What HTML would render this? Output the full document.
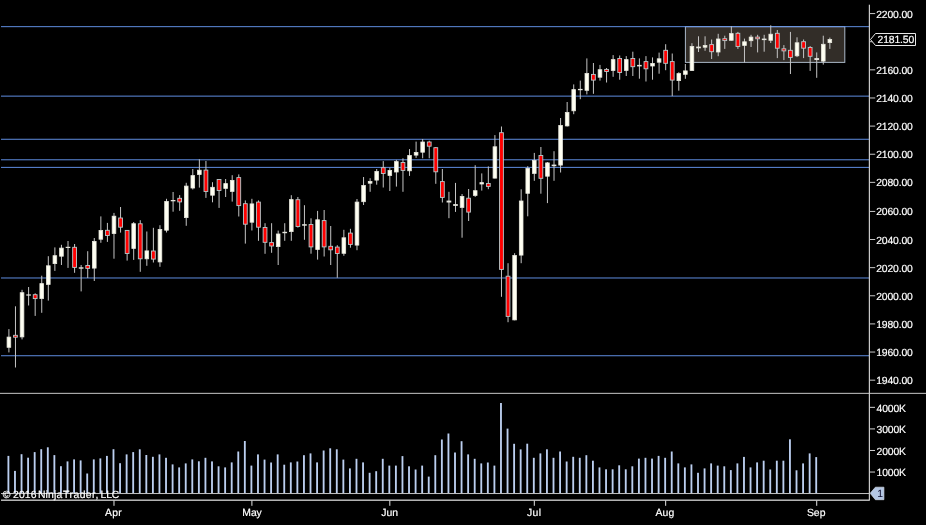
<!DOCTYPE html>
<html lang="en"><head><meta charset="utf-8"><title>Chart</title>
<style>html,body{margin:0;padding:0;background:#000;overflow:hidden}svg{display:block}</style>
</head><body>
<svg width="926" height="525" viewBox="0 0 926 525">
<rect width="926" height="525" fill="#000"/>
<rect x="685.4" y="26.68" width="159.4" height="35.7" fill="#322d28" stroke="#aab8c8" stroke-width="1"/>
<rect x="1" y="26.21" width="868" height="0.94" fill="#6495ed"/>
<rect x="1" y="95.65" width="868" height="0.94" fill="#6495ed"/>
<rect x="1" y="138.78" width="868" height="0.94" fill="#6495ed"/>
<rect x="1" y="159.33" width="868" height="0.94" fill="#6495ed"/>
<rect x="1" y="166.89" width="868" height="0.94" fill="#6495ed"/>
<rect x="1" y="277.51" width="868" height="0.94" fill="#6495ed"/>
<rect x="1" y="355.28" width="868" height="0.94" fill="#6495ed"/>
<g fill="#bccff0">
<rect x="7.48" y="455.9" width="1.84" height="37.4"/>
<rect x="14.05" y="470.9" width="1.84" height="22.4"/>
<rect x="20.62" y="454.2" width="1.84" height="39.1"/>
<rect x="27.18" y="457.7" width="1.84" height="35.6"/>
<rect x="33.75" y="452.1" width="1.84" height="41.2"/>
<rect x="40.32" y="449.2" width="1.84" height="44.1"/>
<rect x="46.89" y="447.3" width="1.84" height="46"/>
<rect x="53.45" y="455.1" width="1.84" height="38.2"/>
<rect x="60.02" y="466.2" width="1.84" height="27.1"/>
<rect x="66.59" y="461.4" width="1.84" height="31.9"/>
<rect x="73.16" y="459.4" width="1.84" height="33.9"/>
<rect x="79.72" y="460.4" width="1.84" height="32.9"/>
<rect x="86.29" y="473.5" width="1.84" height="19.8"/>
<rect x="92.86" y="459.4" width="1.84" height="33.9"/>
<rect x="99.43" y="458.4" width="1.84" height="34.9"/>
<rect x="105.99" y="455.9" width="1.84" height="37.4"/>
<rect x="112.56" y="449.2" width="1.84" height="44.1"/>
<rect x="119.13" y="463.2" width="1.84" height="30.1"/>
<rect x="125.7" y="454.4" width="1.84" height="38.9"/>
<rect x="132.26" y="452.1" width="1.84" height="41.2"/>
<rect x="138.83" y="449.3" width="1.84" height="44"/>
<rect x="145.4" y="455" width="1.84" height="38.3"/>
<rect x="151.97" y="456.8" width="1.84" height="36.5"/>
<rect x="158.53" y="454.4" width="1.84" height="38.9"/>
<rect x="165.1" y="457.8" width="1.84" height="35.5"/>
<rect x="171.67" y="464.4" width="1.84" height="28.9"/>
<rect x="178.24" y="467.4" width="1.84" height="25.9"/>
<rect x="184.81" y="463.4" width="1.84" height="29.9"/>
<rect x="191.37" y="459.4" width="1.84" height="33.9"/>
<rect x="197.94" y="461.3" width="1.84" height="32"/>
<rect x="204.51" y="457.8" width="1.84" height="35.5"/>
<rect x="211.08" y="461.4" width="1.84" height="31.9"/>
<rect x="217.64" y="466.3" width="1.84" height="27"/>
<rect x="224.21" y="467.4" width="1.84" height="25.9"/>
<rect x="230.78" y="462.4" width="1.84" height="30.9"/>
<rect x="237.35" y="451.5" width="1.84" height="41.8"/>
<rect x="243.91" y="441" width="1.84" height="52.3"/>
<rect x="250.48" y="465.6" width="1.84" height="27.7"/>
<rect x="257.05" y="454.4" width="1.84" height="38.9"/>
<rect x="263.62" y="459.6" width="1.84" height="33.7"/>
<rect x="270.18" y="462.5" width="1.84" height="30.8"/>
<rect x="276.75" y="454.4" width="1.84" height="38.9"/>
<rect x="283.32" y="464.7" width="1.84" height="28.6"/>
<rect x="289.89" y="462.4" width="1.84" height="30.9"/>
<rect x="296.45" y="461.5" width="1.84" height="31.8"/>
<rect x="303.02" y="455.2" width="1.84" height="38.1"/>
<rect x="309.59" y="453.4" width="1.84" height="39.9"/>
<rect x="316.16" y="462.4" width="1.84" height="30.9"/>
<rect x="322.72" y="450.5" width="1.84" height="42.8"/>
<rect x="329.29" y="448.3" width="1.84" height="45"/>
<rect x="335.86" y="449.3" width="1.84" height="44"/>
<rect x="342.43" y="459.6" width="1.84" height="33.7"/>
<rect x="349" y="468.4" width="1.84" height="24.9"/>
<rect x="355.56" y="458.8" width="1.84" height="34.5"/>
<rect x="362.13" y="462.4" width="1.84" height="30.9"/>
<rect x="368.7" y="472.8" width="1.84" height="20.5"/>
<rect x="375.27" y="471.2" width="1.84" height="22.1"/>
<rect x="381.83" y="458.8" width="1.84" height="34.5"/>
<rect x="388.4" y="465.6" width="1.84" height="27.7"/>
<rect x="394.97" y="465.6" width="1.84" height="27.7"/>
<rect x="401.54" y="456.1" width="1.84" height="37.2"/>
<rect x="408.1" y="466.3" width="1.84" height="27"/>
<rect x="414.67" y="469.5" width="1.84" height="23.8"/>
<rect x="421.24" y="465.6" width="1.84" height="27.7"/>
<rect x="427.81" y="476.6" width="1.84" height="16.7"/>
<rect x="434.37" y="455.2" width="1.84" height="38.1"/>
<rect x="440.94" y="439.5" width="1.84" height="53.8"/>
<rect x="447.51" y="433.5" width="1.84" height="59.8"/>
<rect x="454.08" y="452.5" width="1.84" height="40.8"/>
<rect x="460.64" y="441.2" width="1.84" height="52.1"/>
<rect x="467.21" y="454.4" width="1.84" height="38.9"/>
<rect x="473.78" y="458.8" width="1.84" height="34.5"/>
<rect x="480.35" y="463.4" width="1.84" height="29.9"/>
<rect x="486.91" y="462.5" width="1.84" height="30.8"/>
<rect x="493.48" y="465.6" width="1.84" height="27.7"/>
<rect x="500.05" y="403" width="1.84" height="90.3"/>
<rect x="506.62" y="428.6" width="1.84" height="64.7"/>
<rect x="513.19" y="443.8" width="1.84" height="49.5"/>
<rect x="519.75" y="449.4" width="1.84" height="43.9"/>
<rect x="526.32" y="443.7" width="1.84" height="49.6"/>
<rect x="532.89" y="457.8" width="1.84" height="35.5"/>
<rect x="539.46" y="453.4" width="1.84" height="39.9"/>
<rect x="546.02" y="449.3" width="1.84" height="44"/>
<rect x="552.59" y="457.8" width="1.84" height="35.5"/>
<rect x="559.16" y="451.5" width="1.84" height="41.8"/>
<rect x="565.73" y="461.5" width="1.84" height="31.8"/>
<rect x="572.29" y="456.8" width="1.84" height="36.5"/>
<rect x="578.86" y="457.8" width="1.84" height="35.5"/>
<rect x="585.43" y="455.2" width="1.84" height="38.1"/>
<rect x="592" y="460.7" width="1.84" height="32.6"/>
<rect x="598.56" y="467.4" width="1.84" height="25.9"/>
<rect x="605.13" y="469.3" width="1.84" height="24"/>
<rect x="611.7" y="469.3" width="1.84" height="24"/>
<rect x="618.27" y="465.3" width="1.84" height="28"/>
<rect x="624.83" y="469.3" width="1.84" height="24"/>
<rect x="631.4" y="466.3" width="1.84" height="27"/>
<rect x="637.97" y="458.6" width="1.84" height="34.7"/>
<rect x="644.54" y="457.8" width="1.84" height="35.5"/>
<rect x="651.1" y="458.6" width="1.84" height="34.7"/>
<rect x="657.67" y="455.9" width="1.84" height="37.4"/>
<rect x="664.24" y="457.8" width="1.84" height="35.5"/>
<rect x="670.81" y="451.5" width="1.84" height="41.8"/>
<rect x="677.38" y="463.4" width="1.84" height="29.9"/>
<rect x="683.94" y="467.4" width="1.84" height="25.9"/>
<rect x="690.51" y="464.4" width="1.84" height="28.9"/>
<rect x="697.08" y="472.8" width="1.84" height="20.5"/>
<rect x="703.65" y="468.4" width="1.84" height="24.9"/>
<rect x="710.21" y="463.4" width="1.84" height="29.9"/>
<rect x="716.78" y="465.6" width="1.84" height="27.7"/>
<rect x="723.35" y="466.3" width="1.84" height="27"/>
<rect x="729.92" y="470.1" width="1.84" height="23.2"/>
<rect x="736.48" y="463.4" width="1.84" height="29.9"/>
<rect x="743.05" y="456.9" width="1.84" height="36.4"/>
<rect x="749.62" y="467.4" width="1.84" height="25.9"/>
<rect x="756.19" y="462.4" width="1.84" height="30.9"/>
<rect x="762.75" y="460.7" width="1.84" height="32.6"/>
<rect x="769.32" y="469.5" width="1.84" height="23.8"/>
<rect x="775.89" y="460.7" width="1.84" height="32.6"/>
<rect x="782.46" y="460.7" width="1.84" height="32.6"/>
<rect x="789.02" y="439.3" width="1.84" height="54"/>
<rect x="795.59" y="470.3" width="1.84" height="23"/>
<rect x="802.16" y="463.4" width="1.84" height="29.9"/>
<rect x="808.73" y="453.4" width="1.84" height="39.9"/>
<rect x="815.29" y="457.1" width="1.84" height="36.2"/>
</g>
<g>
<rect x="8.4" y="329.1" width="1" height="23.3" fill="#c4c4c4"/>
<rect x="7.08" y="337.1" width="3.65" height="10.2" fill="#fffff2" stroke="#e6e6dc" stroke-width="0.8"/>
<rect x="14.97" y="306.3" width="1" height="61.2" fill="#c4c4c4"/>
<rect x="13.57" y="335.3" width="3.8" height="1.9" fill="#ff0000" stroke="#b8cacc" stroke-width="0.9"/>
<rect x="21.54" y="289.8" width="1" height="49.6" fill="#c4c4c4"/>
<rect x="20.21" y="292.7" width="3.65" height="44.2" fill="#fffff2" stroke="#e6e6dc" stroke-width="0.8"/>
<rect x="28.1" y="287" width="1" height="18.5" fill="#c4c4c4"/>
<rect x="26.25" y="294.4" width="4.7" height="1.2" fill="#e4e4dc"/>
<rect x="34.67" y="293.3" width="1" height="22.6" fill="#c4c4c4"/>
<rect x="33.27" y="294.7" width="3.8" height="3.9" fill="#ff0000" stroke="#b8cacc" stroke-width="0.9"/>
<rect x="41.24" y="275.7" width="1" height="37.1" fill="#c4c4c4"/>
<rect x="39.91" y="283.6" width="3.65" height="15" fill="#fffff2" stroke="#e6e6dc" stroke-width="0.8"/>
<rect x="47.81" y="256.2" width="1" height="44.4" fill="#c4c4c4"/>
<rect x="46.48" y="265.8" width="3.65" height="18.6" fill="#fffff2" stroke="#e6e6dc" stroke-width="0.8"/>
<rect x="54.37" y="247.4" width="1" height="23.5" fill="#c4c4c4"/>
<rect x="53.05" y="255.7" width="3.65" height="7.9" fill="#fffff2" stroke="#e6e6dc" stroke-width="0.8"/>
<rect x="60.94" y="244.8" width="1" height="20.2" fill="#c4c4c4"/>
<rect x="59.62" y="248.1" width="3.65" height="8.1" fill="#fffff2" stroke="#e6e6dc" stroke-width="0.8"/>
<rect x="67.51" y="241" width="1" height="26.9" fill="#c4c4c4"/>
<rect x="65.66" y="246.8" width="4.7" height="1.2" fill="#e4e4dc"/>
<rect x="74.08" y="244" width="1" height="28.8" fill="#c4c4c4"/>
<rect x="72.68" y="247.3" width="3.8" height="20.1" fill="#ff0000" stroke="#b8cacc" stroke-width="0.9"/>
<rect x="80.64" y="265" width="1" height="26.4" fill="#c4c4c4"/>
<rect x="78.79" y="267.3" width="4.7" height="1.4" fill="#e4e4dc"/>
<rect x="87.21" y="251.2" width="1" height="26.8" fill="#c4c4c4"/>
<rect x="85.81" y="265.5" width="3.8" height="2.9" fill="#ff0000" stroke="#b8cacc" stroke-width="0.9"/>
<rect x="93.78" y="238" width="1" height="43" fill="#c4c4c4"/>
<rect x="92.45" y="241.4" width="3.65" height="26.7" fill="#fffff2" stroke="#e6e6dc" stroke-width="0.8"/>
<rect x="100.35" y="216.4" width="1" height="26.4" fill="#c4c4c4"/>
<rect x="99.02" y="230.4" width="3.65" height="8.8" fill="#fffff2" stroke="#e6e6dc" stroke-width="0.8"/>
<rect x="106.91" y="222.9" width="1" height="19" fill="#c4c4c4"/>
<rect x="105.51" y="230.3" width="3.8" height="5.2" fill="#ff0000" stroke="#b8cacc" stroke-width="0.9"/>
<rect x="113.48" y="212.9" width="1" height="45.8" fill="#c4c4c4"/>
<rect x="112.16" y="216.2" width="3.65" height="17.4" fill="#fffff2" stroke="#e6e6dc" stroke-width="0.8"/>
<rect x="120.05" y="207" width="1" height="25.6" fill="#c4c4c4"/>
<rect x="118.65" y="218" width="3.8" height="9.2" fill="#ff0000" stroke="#b8cacc" stroke-width="0.9"/>
<rect x="126.62" y="230" width="1" height="30.6" fill="#c4c4c4"/>
<rect x="125.22" y="230.4" width="3.8" height="23.1" fill="#ff0000" stroke="#b8cacc" stroke-width="0.9"/>
<rect x="133.18" y="222" width="1" height="37.9" fill="#c4c4c4"/>
<rect x="131.86" y="223.7" width="3.65" height="24.7" fill="#fffff2" stroke="#e6e6dc" stroke-width="0.8"/>
<rect x="139.75" y="220.2" width="1" height="51.6" fill="#c4c4c4"/>
<rect x="138.35" y="223.8" width="3.8" height="35" fill="#ff0000" stroke="#b8cacc" stroke-width="0.9"/>
<rect x="146.32" y="231.5" width="1" height="34.3" fill="#c4c4c4"/>
<rect x="144.99" y="250.9" width="3.65" height="7.9" fill="#fffff2" stroke="#e6e6dc" stroke-width="0.8"/>
<rect x="152.89" y="227.8" width="1" height="34.7" fill="#c4c4c4"/>
<rect x="151.49" y="251" width="3.8" height="8.1" fill="#ff0000" stroke="#b8cacc" stroke-width="0.9"/>
<rect x="159.45" y="225.2" width="1" height="41.6" fill="#c4c4c4"/>
<rect x="158.13" y="229.4" width="3.65" height="32.5" fill="#fffff2" stroke="#e6e6dc" stroke-width="0.8"/>
<rect x="166.02" y="198.8" width="1" height="33.7" fill="#c4c4c4"/>
<rect x="164.7" y="201.4" width="3.65" height="28.8" fill="#fffff2" stroke="#e6e6dc" stroke-width="0.8"/>
<rect x="172.59" y="192" width="1" height="19.7" fill="#c4c4c4"/>
<rect x="170.74" y="200" width="4.7" height="1.3" fill="#e4e4dc"/>
<rect x="179.16" y="195.1" width="1" height="15.7" fill="#c4c4c4"/>
<rect x="177.76" y="198.3" width="3.8" height="3.6" fill="#ff0000" stroke="#b8cacc" stroke-width="0.9"/>
<rect x="185.73" y="182.8" width="1" height="43" fill="#c4c4c4"/>
<rect x="184.4" y="186.1" width="3.65" height="31.5" fill="#fffff2" stroke="#e6e6dc" stroke-width="0.8"/>
<rect x="192.29" y="169" width="1" height="20.5" fill="#c4c4c4"/>
<rect x="190.97" y="175.6" width="3.65" height="12.4" fill="#fffff2" stroke="#e6e6dc" stroke-width="0.8"/>
<rect x="198.86" y="159.3" width="1" height="28.3" fill="#c4c4c4"/>
<rect x="197.54" y="170.2" width="3.65" height="4.4" fill="#fffff2" stroke="#e6e6dc" stroke-width="0.8"/>
<rect x="205.43" y="161" width="1" height="36.9" fill="#c4c4c4"/>
<rect x="204.03" y="170.1" width="3.8" height="21.4" fill="#ff0000" stroke="#b8cacc" stroke-width="0.9"/>
<rect x="212" y="182.2" width="1" height="20.1" fill="#c4c4c4"/>
<rect x="210.67" y="187.3" width="3.65" height="7.9" fill="#fffff2" stroke="#e6e6dc" stroke-width="0.8"/>
<rect x="218.56" y="179" width="1" height="28.9" fill="#c4c4c4"/>
<rect x="217.16" y="179.5" width="3.8" height="11" fill="#ff0000" stroke="#b8cacc" stroke-width="0.9"/>
<rect x="225.13" y="179" width="1" height="18" fill="#c4c4c4"/>
<rect x="223.81" y="183.6" width="3.65" height="4.8" fill="#fffff2" stroke="#e6e6dc" stroke-width="0.8"/>
<rect x="231.7" y="175.2" width="1" height="26.4" fill="#c4c4c4"/>
<rect x="230.37" y="180.4" width="3.65" height="11" fill="#fffff2" stroke="#e6e6dc" stroke-width="0.8"/>
<rect x="238.27" y="174.4" width="1" height="42.1" fill="#c4c4c4"/>
<rect x="236.87" y="177.6" width="3.8" height="28" fill="#ff0000" stroke="#b8cacc" stroke-width="0.9"/>
<rect x="244.83" y="200.4" width="1" height="43.2" fill="#c4c4c4"/>
<rect x="243.43" y="203.7" width="3.8" height="20.5" fill="#ff0000" stroke="#b8cacc" stroke-width="0.9"/>
<rect x="251.4" y="198.8" width="1" height="31.7" fill="#c4c4c4"/>
<rect x="250.08" y="203.9" width="3.65" height="18.3" fill="#fffff2" stroke="#e6e6dc" stroke-width="0.8"/>
<rect x="257.97" y="200.4" width="1" height="40.4" fill="#c4c4c4"/>
<rect x="256.57" y="202.1" width="3.8" height="25.1" fill="#ff0000" stroke="#b8cacc" stroke-width="0.9"/>
<rect x="264.54" y="223.2" width="1" height="30.6" fill="#c4c4c4"/>
<rect x="263.14" y="227.5" width="3.8" height="14.8" fill="#ff0000" stroke="#b8cacc" stroke-width="0.9"/>
<rect x="271.1" y="223.2" width="1" height="29.6" fill="#c4c4c4"/>
<rect x="269.7" y="242.6" width="3.8" height="3.4" fill="#ff0000" stroke="#b8cacc" stroke-width="0.9"/>
<rect x="277.67" y="230.6" width="1" height="34.4" fill="#c4c4c4"/>
<rect x="276.35" y="234" width="3.65" height="12.6" fill="#fffff2" stroke="#e6e6dc" stroke-width="0.8"/>
<rect x="284.24" y="223.2" width="1" height="17.6" fill="#c4c4c4"/>
<rect x="282.39" y="231.8" width="4.7" height="1.4" fill="#e4e4dc"/>
<rect x="290.81" y="195.2" width="1" height="45.6" fill="#c4c4c4"/>
<rect x="289.48" y="199.6" width="3.65" height="32" fill="#fffff2" stroke="#e6e6dc" stroke-width="0.8"/>
<rect x="297.37" y="197" width="1" height="30.6" fill="#c4c4c4"/>
<rect x="295.97" y="199.7" width="3.8" height="26.8" fill="#ff0000" stroke="#b8cacc" stroke-width="0.9"/>
<rect x="303.94" y="205.2" width="1" height="34.6" fill="#c4c4c4"/>
<rect x="302.09" y="224.2" width="4.7" height="1.5" fill="#e4e4dc"/>
<rect x="310.51" y="218.3" width="1" height="35.4" fill="#c4c4c4"/>
<rect x="309.11" y="224.5" width="3.8" height="22.4" fill="#ff0000" stroke="#b8cacc" stroke-width="0.9"/>
<rect x="317.08" y="210.9" width="1" height="48.7" fill="#c4c4c4"/>
<rect x="315.75" y="219.8" width="3.65" height="29.7" fill="#fffff2" stroke="#e6e6dc" stroke-width="0.8"/>
<rect x="323.64" y="210" width="1" height="46.5" fill="#c4c4c4"/>
<rect x="322.24" y="220.6" width="3.8" height="26.3" fill="#ff0000" stroke="#b8cacc" stroke-width="0.9"/>
<rect x="330.21" y="226" width="1" height="39" fill="#c4c4c4"/>
<rect x="328.81" y="246.3" width="3.8" height="3.5" fill="#ff0000" stroke="#b8cacc" stroke-width="0.9"/>
<rect x="336.78" y="245.2" width="1" height="32.6" fill="#c4c4c4"/>
<rect x="335.38" y="247.1" width="3.8" height="6.4" fill="#ff0000" stroke="#b8cacc" stroke-width="0.9"/>
<rect x="343.35" y="229.8" width="1" height="26" fill="#c4c4c4"/>
<rect x="342.02" y="237.8" width="3.65" height="15.5" fill="#fffff2" stroke="#e6e6dc" stroke-width="0.8"/>
<rect x="349.92" y="228.8" width="1" height="18.9" fill="#c4c4c4"/>
<rect x="348.52" y="233.1" width="3.8" height="11.3" fill="#ff0000" stroke="#b8cacc" stroke-width="0.9"/>
<rect x="356.48" y="199" width="1" height="51.2" fill="#c4c4c4"/>
<rect x="355.16" y="202.1" width="3.65" height="43" fill="#fffff2" stroke="#e6e6dc" stroke-width="0.8"/>
<rect x="363.05" y="177" width="1" height="28" fill="#c4c4c4"/>
<rect x="361.73" y="185.5" width="3.65" height="16.2" fill="#fffff2" stroke="#e6e6dc" stroke-width="0.8"/>
<rect x="369.62" y="178.2" width="1" height="13.6" fill="#c4c4c4"/>
<rect x="368.29" y="181.5" width="3.65" height="1.7" fill="#fffff2" stroke="#e6e6dc" stroke-width="0.8"/>
<rect x="376.19" y="169" width="1" height="15.7" fill="#c4c4c4"/>
<rect x="374.86" y="171.4" width="3.65" height="8.7" fill="#fffff2" stroke="#e6e6dc" stroke-width="0.8"/>
<rect x="382.75" y="161.1" width="1" height="26.4" fill="#c4c4c4"/>
<rect x="381.35" y="167.7" width="3.8" height="5.8" fill="#ff0000" stroke="#b8cacc" stroke-width="0.9"/>
<rect x="389.32" y="167.7" width="1" height="23.3" fill="#c4c4c4"/>
<rect x="388" y="170.4" width="3.65" height="5.1" fill="#fffff2" stroke="#e6e6dc" stroke-width="0.8"/>
<rect x="395.89" y="159.9" width="1" height="26.7" fill="#c4c4c4"/>
<rect x="394.56" y="161.6" width="3.65" height="10.4" fill="#fffff2" stroke="#e6e6dc" stroke-width="0.8"/>
<rect x="402.46" y="158.3" width="1" height="33.5" fill="#c4c4c4"/>
<rect x="401.06" y="162.5" width="3.8" height="7.9" fill="#ff0000" stroke="#b8cacc" stroke-width="0.9"/>
<rect x="409.02" y="149.1" width="1" height="26.8" fill="#c4c4c4"/>
<rect x="407.7" y="155.5" width="3.65" height="15.3" fill="#fffff2" stroke="#e6e6dc" stroke-width="0.8"/>
<rect x="415.59" y="141.6" width="1" height="16.3" fill="#c4c4c4"/>
<rect x="414.27" y="152.4" width="3.65" height="2.7" fill="#fffff2" stroke="#e6e6dc" stroke-width="0.8"/>
<rect x="422.16" y="139" width="1" height="19.3" fill="#c4c4c4"/>
<rect x="420.83" y="142" width="3.65" height="10.2" fill="#fffff2" stroke="#e6e6dc" stroke-width="0.8"/>
<rect x="428.73" y="140.7" width="1" height="17.6" fill="#c4c4c4"/>
<rect x="427.33" y="142" width="3.8" height="4.2" fill="#ff0000" stroke="#b8cacc" stroke-width="0.9"/>
<rect x="435.29" y="147" width="1" height="36.8" fill="#c4c4c4"/>
<rect x="433.89" y="147.7" width="3.8" height="24.1" fill="#ff0000" stroke="#b8cacc" stroke-width="0.9"/>
<rect x="441.86" y="169" width="1" height="33.5" fill="#c4c4c4"/>
<rect x="440.46" y="181.6" width="3.8" height="15.8" fill="#ff0000" stroke="#b8cacc" stroke-width="0.9"/>
<rect x="448.43" y="191.8" width="1" height="26.4" fill="#c4c4c4"/>
<rect x="446.58" y="200.6" width="4.7" height="1.9" fill="#e4e4dc"/>
<rect x="455" y="182.9" width="1" height="29" fill="#c4c4c4"/>
<rect x="453.15" y="204.1" width="4.7" height="1.8" fill="#e4e4dc"/>
<rect x="461.56" y="194" width="1" height="43.7" fill="#c4c4c4"/>
<rect x="460.24" y="196.4" width="3.65" height="11" fill="#fffff2" stroke="#e6e6dc" stroke-width="0.8"/>
<rect x="468.13" y="189" width="1" height="32" fill="#c4c4c4"/>
<rect x="466.73" y="198.2" width="3.8" height="13.9" fill="#ff0000" stroke="#b8cacc" stroke-width="0.9"/>
<rect x="474.7" y="165.2" width="1" height="31.7" fill="#c4c4c4"/>
<rect x="473.37" y="190.7" width="3.65" height="4.7" fill="#fffff2" stroke="#e6e6dc" stroke-width="0.8"/>
<rect x="481.27" y="173.4" width="1" height="17.2" fill="#c4c4c4"/>
<rect x="479.94" y="182.6" width="3.65" height="1.4" fill="#fffff2" stroke="#e6e6dc" stroke-width="0.8"/>
<rect x="487.83" y="166.4" width="1" height="22.8" fill="#c4c4c4"/>
<rect x="486.43" y="183.5" width="3.8" height="2.9" fill="#ff0000" stroke="#b8cacc" stroke-width="0.9"/>
<rect x="494.4" y="135.1" width="1" height="43.4" fill="#c4c4c4"/>
<rect x="493.08" y="146.8" width="3.65" height="31.3" fill="#fffff2" stroke="#e6e6dc" stroke-width="0.8"/>
<rect x="500.97" y="126.5" width="1" height="170.3" fill="#c4c4c4"/>
<rect x="499.57" y="132.7" width="3.8" height="136.7" fill="#ff0000" stroke="#b8cacc" stroke-width="0.9"/>
<rect x="507.54" y="263.2" width="1" height="59" fill="#c4c4c4"/>
<rect x="506.14" y="276.2" width="3.8" height="40.2" fill="#ff0000" stroke="#b8cacc" stroke-width="0.9"/>
<rect x="514.11" y="253.2" width="1" height="67.1" fill="#c4c4c4"/>
<rect x="512.78" y="255.5" width="3.65" height="64.4" fill="#fffff2" stroke="#e6e6dc" stroke-width="0.8"/>
<rect x="520.67" y="189.3" width="1" height="73.9" fill="#c4c4c4"/>
<rect x="519.35" y="201" width="3.65" height="54.1" fill="#fffff2" stroke="#e6e6dc" stroke-width="0.8"/>
<rect x="527.24" y="166.2" width="1" height="50.1" fill="#c4c4c4"/>
<rect x="525.92" y="168.4" width="3.65" height="24.9" fill="#fffff2" stroke="#e6e6dc" stroke-width="0.8"/>
<rect x="533.81" y="152.9" width="1" height="27.9" fill="#c4c4c4"/>
<rect x="532.48" y="160.4" width="3.65" height="13" fill="#fffff2" stroke="#e6e6dc" stroke-width="0.8"/>
<rect x="540.38" y="147" width="1" height="46.7" fill="#c4c4c4"/>
<rect x="538.98" y="155.5" width="3.8" height="22.8" fill="#ff0000" stroke="#b8cacc" stroke-width="0.9"/>
<rect x="546.94" y="162" width="1" height="41.1" fill="#c4c4c4"/>
<rect x="545.62" y="162.9" width="3.65" height="13.3" fill="#fffff2" stroke="#e6e6dc" stroke-width="0.8"/>
<rect x="553.51" y="151.2" width="1" height="29.6" fill="#c4c4c4"/>
<rect x="551.66" y="164.6" width="4.7" height="1.6" fill="#e4e4dc"/>
<rect x="560.08" y="118" width="1" height="54.5" fill="#c4c4c4"/>
<rect x="558.75" y="125.4" width="3.65" height="39.7" fill="#fffff2" stroke="#e6e6dc" stroke-width="0.8"/>
<rect x="566.65" y="102" width="1" height="24.5" fill="#c4c4c4"/>
<rect x="565.32" y="112.5" width="3.65" height="13.4" fill="#fffff2" stroke="#e6e6dc" stroke-width="0.8"/>
<rect x="573.21" y="84.4" width="1" height="29.8" fill="#c4c4c4"/>
<rect x="571.89" y="89.6" width="3.65" height="21.2" fill="#fffff2" stroke="#e6e6dc" stroke-width="0.8"/>
<rect x="579.78" y="80.6" width="1" height="18.6" fill="#c4c4c4"/>
<rect x="577.93" y="88.9" width="4.7" height="1.3" fill="#e4e4dc"/>
<rect x="586.35" y="58.4" width="1" height="36" fill="#c4c4c4"/>
<rect x="585.02" y="73.5" width="3.65" height="16.8" fill="#fffff2" stroke="#e6e6dc" stroke-width="0.8"/>
<rect x="592.92" y="63" width="1" height="30.8" fill="#c4c4c4"/>
<rect x="591.52" y="74.4" width="3.8" height="5.7" fill="#ff0000" stroke="#b8cacc" stroke-width="0.9"/>
<rect x="599.48" y="64.9" width="1" height="15.7" fill="#c4c4c4"/>
<rect x="598.16" y="69.7" width="3.65" height="7.5" fill="#fffff2" stroke="#e6e6dc" stroke-width="0.8"/>
<rect x="606.05" y="68" width="1" height="14.5" fill="#c4c4c4"/>
<rect x="604.65" y="69.4" width="3.8" height="2.1" fill="#ff0000" stroke="#b8cacc" stroke-width="0.9"/>
<rect x="612.62" y="55.1" width="1" height="21.7" fill="#c4c4c4"/>
<rect x="611.29" y="59.6" width="3.65" height="10.9" fill="#fffff2" stroke="#e6e6dc" stroke-width="0.8"/>
<rect x="619.19" y="55.5" width="1" height="24.2" fill="#c4c4c4"/>
<rect x="617.79" y="58.5" width="3.8" height="14" fill="#ff0000" stroke="#b8cacc" stroke-width="0.9"/>
<rect x="625.75" y="56.1" width="1" height="19.9" fill="#c4c4c4"/>
<rect x="624.43" y="59.6" width="3.65" height="10.8" fill="#fffff2" stroke="#e6e6dc" stroke-width="0.8"/>
<rect x="632.32" y="51.7" width="1" height="24.3" fill="#c4c4c4"/>
<rect x="630.92" y="58.5" width="3.8" height="8.2" fill="#ff0000" stroke="#b8cacc" stroke-width="0.9"/>
<rect x="638.89" y="58.4" width="1" height="20.3" fill="#c4c4c4"/>
<rect x="637.04" y="64.9" width="4.7" height="1.5" fill="#e4e4dc"/>
<rect x="645.46" y="56.1" width="1" height="25.4" fill="#c4c4c4"/>
<rect x="644.06" y="61.6" width="3.8" height="7.2" fill="#ff0000" stroke="#b8cacc" stroke-width="0.9"/>
<rect x="652.02" y="57.4" width="1" height="22.3" fill="#c4c4c4"/>
<rect x="650.7" y="63.4" width="3.65" height="2.6" fill="#fffff2" stroke="#e6e6dc" stroke-width="0.8"/>
<rect x="658.59" y="52.6" width="1" height="21.1" fill="#c4c4c4"/>
<rect x="657.27" y="58.8" width="3.65" height="3.4" fill="#fffff2" stroke="#e6e6dc" stroke-width="0.8"/>
<rect x="665.16" y="44.2" width="1" height="26" fill="#c4c4c4"/>
<rect x="663.76" y="50.3" width="3.8" height="13" fill="#ff0000" stroke="#b8cacc" stroke-width="0.9"/>
<rect x="671.73" y="53.5" width="1" height="42.6" fill="#c4c4c4"/>
<rect x="670.33" y="61.6" width="3.8" height="18.5" fill="#ff0000" stroke="#b8cacc" stroke-width="0.9"/>
<rect x="678.3" y="72.2" width="1" height="18.5" fill="#c4c4c4"/>
<rect x="676.97" y="73.6" width="3.65" height="7" fill="#fffff2" stroke="#e6e6dc" stroke-width="0.8"/>
<rect x="684.86" y="64" width="1" height="14.8" fill="#c4c4c4"/>
<rect x="683.54" y="70.9" width="3.65" height="3.4" fill="#fffff2" stroke="#e6e6dc" stroke-width="0.8"/>
<rect x="691.43" y="43.2" width="1" height="27.7" fill="#c4c4c4"/>
<rect x="690.11" y="46.5" width="3.65" height="24" fill="#fffff2" stroke="#e6e6dc" stroke-width="0.8"/>
<rect x="698" y="36.3" width="1" height="15.7" fill="#c4c4c4"/>
<rect x="696.15" y="46.6" width="4.7" height="1.7" fill="#e4e4dc"/>
<rect x="704.57" y="36.3" width="1" height="14.5" fill="#c4c4c4"/>
<rect x="703.24" y="45.5" width="3.65" height="1.7" fill="#fffff2" stroke="#e6e6dc" stroke-width="0.8"/>
<rect x="711.13" y="39.5" width="1" height="19.5" fill="#c4c4c4"/>
<rect x="709.73" y="44.6" width="3.8" height="7.1" fill="#ff0000" stroke="#b8cacc" stroke-width="0.9"/>
<rect x="717.7" y="33.8" width="1" height="22.4" fill="#c4c4c4"/>
<rect x="716.38" y="39" width="3.65" height="13" fill="#fffff2" stroke="#e6e6dc" stroke-width="0.8"/>
<rect x="724.27" y="35.7" width="1" height="13.2" fill="#c4c4c4"/>
<rect x="722.87" y="38.7" width="3.8" height="1.9" fill="#ff0000" stroke="#b8cacc" stroke-width="0.9"/>
<rect x="730.84" y="26.3" width="1" height="14.4" fill="#c4c4c4"/>
<rect x="729.51" y="33.6" width="3.65" height="6.7" fill="#fffff2" stroke="#e6e6dc" stroke-width="0.8"/>
<rect x="737.4" y="31.9" width="1" height="17" fill="#c4c4c4"/>
<rect x="736" y="33.3" width="3.8" height="13.2" fill="#ff0000" stroke="#b8cacc" stroke-width="0.9"/>
<rect x="743.97" y="38.6" width="1" height="23.9" fill="#c4c4c4"/>
<rect x="742.65" y="41.8" width="3.65" height="3.6" fill="#fffff2" stroke="#e6e6dc" stroke-width="0.8"/>
<rect x="750.54" y="34.8" width="1" height="12.2" fill="#c4c4c4"/>
<rect x="749.21" y="37.1" width="3.65" height="3.6" fill="#fffff2" stroke="#e6e6dc" stroke-width="0.8"/>
<rect x="757.11" y="34.8" width="1" height="17.6" fill="#c4c4c4"/>
<rect x="755.71" y="37.1" width="3.8" height="1.7" fill="#ff0000" stroke="#b8cacc" stroke-width="0.9"/>
<rect x="763.67" y="34.8" width="1" height="16.9" fill="#c4c4c4"/>
<rect x="761.82" y="38.6" width="4.7" height="1.5" fill="#e4e4dc"/>
<rect x="770.24" y="25.3" width="1" height="17.7" fill="#c4c4c4"/>
<rect x="768.92" y="34.2" width="3.65" height="6.1" fill="#fffff2" stroke="#e6e6dc" stroke-width="0.8"/>
<rect x="776.81" y="30" width="1" height="28.1" fill="#c4c4c4"/>
<rect x="775.41" y="33.3" width="3.8" height="14.9" fill="#ff0000" stroke="#b8cacc" stroke-width="0.9"/>
<rect x="783.38" y="45.1" width="1" height="15" fill="#c4c4c4"/>
<rect x="781.98" y="48.8" width="3.8" height="2.1" fill="#ff0000" stroke="#b8cacc" stroke-width="0.9"/>
<rect x="789.94" y="31.9" width="1" height="42.1" fill="#c4c4c4"/>
<rect x="788.54" y="50.3" width="3.8" height="7.1" fill="#ff0000" stroke="#b8cacc" stroke-width="0.9"/>
<rect x="796.51" y="37.3" width="1" height="19.8" fill="#c4c4c4"/>
<rect x="795.19" y="42.8" width="3.65" height="13" fill="#fffff2" stroke="#e6e6dc" stroke-width="0.8"/>
<rect x="803.08" y="39.5" width="1" height="18.6" fill="#c4c4c4"/>
<rect x="801.68" y="41.7" width="3.8" height="6.5" fill="#ff0000" stroke="#b8cacc" stroke-width="0.9"/>
<rect x="809.65" y="46.1" width="1" height="24.8" fill="#c4c4c4"/>
<rect x="808.25" y="47.5" width="3.8" height="8.8" fill="#ff0000" stroke="#b8cacc" stroke-width="0.9"/>
<rect x="816.21" y="52.4" width="1" height="25.4" fill="#c4c4c4"/>
<rect x="814.36" y="58.1" width="4.7" height="1.9" fill="#e4e4dc"/>
<rect x="822.78" y="35.7" width="1" height="28.9" fill="#c4c4c4"/>
<rect x="821.46" y="44.3" width="3.65" height="16.8" fill="#fffff2" stroke="#e6e6dc" stroke-width="0.8"/>
<rect x="829.35" y="37.6" width="1" height="11.3" fill="#c4c4c4"/>
<rect x="828.02" y="39.5" width="3.65" height="3.1" fill="#fffff2" stroke="#e6e6dc" stroke-width="0.8"/>
</g>
<g fill="#d3d3d3">
<rect x="868.8" y="4.7" width="1.15" height="495.8"/>
<rect x="0" y="392.85" width="926" height="0.94"/>
<rect x="1" y="493.05" width="868.5" height="0.98" fill="#c6c6c6"/>
<rect x="1" y="499.55" width="868.5" height="1.25" fill="#dedede"/>
<rect x="870" y="13.12" width="5.2" height="0.94"/>
<rect x="870" y="41.25" width="3" height="0.94"/>
<rect x="870" y="69.37" width="5.2" height="0.94"/>
<rect x="870" y="97.5" width="5.2" height="0.94"/>
<rect x="870" y="125.62" width="5.2" height="0.94"/>
<rect x="870" y="153.75" width="5.2" height="0.94"/>
<rect x="870" y="181.87" width="5.2" height="0.94"/>
<rect x="870" y="210.94" width="5.2" height="0.94"/>
<rect x="870" y="239.06" width="5.2" height="0.94"/>
<rect x="870" y="267.19" width="5.2" height="0.94"/>
<rect x="870" y="295.31" width="5.2" height="0.94"/>
<rect x="870" y="323.44" width="5.2" height="0.94"/>
<rect x="870" y="351.56" width="5.2" height="0.94"/>
<rect x="870" y="379.69" width="5.2" height="0.94"/>
<rect x="870" y="406.84" width="5" height="1"/>
<rect x="870" y="428.41" width="5" height="1"/>
<rect x="870" y="449.97" width="5" height="1"/>
<rect x="870" y="471.53" width="5" height="1"/>
<rect x="113.48" y="500.5" width="1" height="5.3" fill="#e4e4e4"/>
<rect x="251.4" y="500.5" width="1" height="5.3" fill="#e4e4e4"/>
<rect x="389.32" y="500.5" width="1" height="5.3" fill="#e4e4e4"/>
<rect x="533.81" y="500.5" width="1" height="5.3" fill="#e4e4e4"/>
<rect x="665.16" y="500.5" width="1" height="5.3" fill="#e4e4e4"/>
<rect x="816.21" y="500.5" width="1" height="5.3" fill="#e4e4e4"/>
</g>
<path d="M870.5 39.5 L875.5 33.5 H915.5 V45.5 H875.5 Z" fill="#000" stroke="#e8e8e8" stroke-width="1"/>
<path d="M870.2 493.3 L875.4 487.2 H883.9 V499.7 H875.4 Z" fill="#b4c7e4" stroke="#d4dcea" stroke-width="0.7"/>
<g text-rendering="geometricPrecision" font-family="Liberation Sans, Arial, sans-serif" font-size="10.4px" letter-spacing="-0.15" fill="#fff" stroke="#fff" stroke-width="0.18">
<text x="876.2" y="17.64">2200.00</text>
<text x="876.2" y="73.89">2160.00</text>
<text x="876.2" y="102.02">2140.00</text>
<text x="876.2" y="130.14">2120.00</text>
<text x="876.2" y="158.27">2100.00</text>
<text x="876.2" y="186.39">2080.00</text>
<text x="876.2" y="215.46">2060.00</text>
<text x="876.2" y="243.58">2040.00</text>
<text x="876.2" y="271.71">2020.00</text>
<text x="876.2" y="299.83">2000.00</text>
<text x="876.2" y="327.96">1980.00</text>
<text x="876.2" y="356.08">1960.00</text>
<text x="876.2" y="384.21">1940.00</text>
<text x="877.5" y="42.9">2181.50</text>
<text x="876.5" y="411.8">4000K</text>
<text x="876.5" y="433.01">3000K</text>
<text x="876.5" y="454.57">2000K</text>
<text x="876.5" y="476.13">1000K</text>
<text x="113.5" y="515.6" text-anchor="middle" letter-spacing="0.3">Apr</text>
<text x="252" y="515.6" text-anchor="middle" letter-spacing="-0.1">May</text>
<text x="389.7" y="515.6" text-anchor="middle" letter-spacing="0.1">Jun</text>
<text x="534.2" y="515.6" text-anchor="middle" letter-spacing="0.3">Jul</text>
<text x="664.95" y="515.6" text-anchor="middle" letter-spacing="0.15">Aug</text>
<text x="816.2" y="515.6" text-anchor="middle" letter-spacing="0">Sep</text>
<text y="497.6"><tspan x="2.7">© </tspan><tspan x="13.05" letter-spacing="0.12">2016 </tspan><tspan x="37.9" letter-spacing="0.2">Ninja</tspan><tspan x="63.1" letter-spacing="0.45">Trader, </tspan><tspan x="100.6">LLC</tspan></text>
<text x="877.3" y="496.9" fill="#0a0a2a" stroke="none">1</text>
</g>
</svg>
</body></html>
